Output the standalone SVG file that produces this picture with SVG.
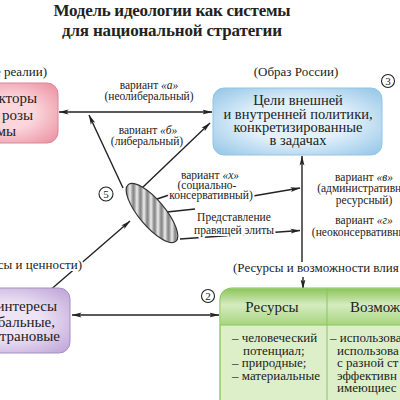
<svg xmlns="http://www.w3.org/2000/svg" width="400" height="400" viewBox="0 0 400 400" font-family="'Liberation Serif', 'DejaVu Serif', 'Times New Roman', serif">
<defs>
<style>
text{font-family:'Liberation Serif','DejaVu Serif','Times New Roman',serif;fill:#222}
.t{font-size:17px;font-weight:bold;text-anchor:middle}
.lbl{font-size:11.5px;text-anchor:middle}
.cap{font-size:13px}
.bx{font-size:14.5px;text-anchor:middle}
.bxe{font-size:15px;text-anchor:end}
.cell{font-size:13px}
.hd{font-size:15px}
.halo{paint-order:stroke;stroke:#fff;stroke-width:4px;stroke-linejoin:round}
.ln{stroke:#222;stroke-width:1.4;fill:none}
.arr{marker-end:url(#ah)}
.dbl{marker-start:url(#ah);marker-end:url(#ah)}
.num{font-size:11px;text-anchor:middle}
.ring{fill:#fff;stroke:#222;stroke-width:1.1}
</style>
<marker id="ah" viewBox="0 0 10 6" refX="9.5" refY="3" markerWidth="10" markerHeight="6" markerUnits="userSpaceOnUse" orient="auto-start-reverse">
<path d="M0,0.6 L10,3 L0,5.4 L2.2,3 z" fill="#222"/>
</marker>
<radialGradient id="gBlue" cx="50%" cy="50%" r="65%">
<stop offset="0.45" stop-color="#e3f1fb"/><stop offset="1" stop-color="#9ccae9"/>
</radialGradient>
<radialGradient id="gPink" cx="50%" cy="50%" r="65%">
<stop offset="0.4" stop-color="#fbd6dc"/><stop offset="1" stop-color="#ec95a4"/>
</radialGradient>
<radialGradient id="gPurp" cx="50%" cy="50%" r="65%">
<stop offset="0.4" stop-color="#eee4f5"/><stop offset="1" stop-color="#c2a9da"/>
</radialGradient>
<linearGradient id="gHead" x1="0" y1="0" x2="0" y2="1">
<stop offset="0" stop-color="#8cc65c"/><stop offset="0.45" stop-color="#d6ecc0"/><stop offset="1" stop-color="#a6d57d"/>
</linearGradient>
<linearGradient id="gStripe" x1="0" y1="0" x2="1" y2="0">
<stop offset="0" stop-color="#7a7a7a"/><stop offset="0.5" stop-color="#eeeeee"/><stop offset="1" stop-color="#7a7a7a"/>
</linearGradient>
<pattern id="stripes" patternUnits="userSpaceOnUse" width="7" height="10" patternTransform="rotate(-50)">
<rect width="7" height="10" fill="url(#gStripe)"/>
</pattern>
</defs>

<g id="title">
<text class="t" x="172" y="16" textLength="237">Модель идеологии как системы</text>
<text class="t" x="172" y="36" textLength="220">для национальной стратегии</text>
</g>

<g id="connectors">
<line class="ln dbl" x1="59" y1="112" x2="212" y2="112"/>
<line class="ln arr" x1="123" y1="188" x2="89" y2="115"/>
<line class="ln arr" x1="142" y1="188" x2="210" y2="123"/>
<line class="ln" x1="157" y1="199" x2="175" y2="193"/>
<line class="ln arr" x1="253" y1="196" x2="300" y2="188"/>
<line class="ln" x1="167" y1="212" x2="195" y2="209"/>
<line class="ln arr" x1="180" y1="239" x2="300" y2="230.5"/>
<line class="ln arr" x1="302" y1="262" x2="302" y2="156"/>
<line class="ln arr" x1="303" y1="277" x2="303" y2="289"/>
<line class="ln arr" x1="48" y1="292" x2="130" y2="221"/>
<line class="ln dbl" x1="72" y1="315" x2="219" y2="315"/>
</g>

<g id="node-external">
<text class="cap" x="47" y="76" text-anchor="end">е реалии)</text>
<rect x="-40" y="83" width="98" height="60" rx="11" fill="url(#gPink)" stroke="#d98898" stroke-width="1"/>
<text class="bxe" x="37" y="103">кторы</text>
<text class="bxe" x="33" y="120">розы</text>
<text class="bxe" x="16" y="136">мы</text>
</g>

<g id="node-goals">
<text class="cap" x="296" y="76" text-anchor="middle">(Образ России)</text>
<rect x="213" y="88" width="169" height="67" rx="11" fill="url(#gBlue)" stroke="#93c4e6" stroke-width="1"/>
<text class="bx" x="298" y="105">Цели внешней</text>
<text class="bx" x="298" y="118.5">и внутренней политики,</text>
<text class="bx" x="298" y="132">конкретизированные</text>
<text class="bx" x="298" y="145">в задачах</text>
<circle class="ring" cx="388" cy="81" r="6.5"/>
<text class="num" x="388" y="85">3</text>
</g>

<g id="node-ideology">
<ellipse cx="152" cy="213" rx="37" ry="13" transform="rotate(50 152 213)" fill="url(#stripes)" stroke="#333" stroke-width="1.2"/>
<circle class="ring" cx="106" cy="194" r="7"/>
<text class="num" x="106" y="198">5</text>
</g>

<g id="labels">
<text class="lbl halo" x="149" y="89">вариант <tspan font-style="italic">«а»</tspan></text>
<text class="lbl halo" x="149" y="99.5">(неолиберальный)</text>
<text class="lbl halo" x="148" y="134">вариант <tspan font-style="italic">«б»</tspan></text>
<text class="lbl halo" x="147" y="144.5">(либеральный)</text>
<text class="lbl halo" x="210" y="179">вариант <tspan font-style="italic">«х»</tspan></text>
<text class="lbl halo" x="207" y="189">(социально-</text>
<text class="lbl halo" x="211" y="199">консервативный)</text>
<text class="lbl halo" x="234" y="221">Представление</text>
<text class="lbl halo" x="234" y="234">правящей элиты</text>
<text class="lbl halo" x="364" y="181">вариант <tspan font-style="italic">«в»</tspan></text>
<text class="lbl halo" x="364" y="192">(административно-</text>
<text class="lbl halo" x="364" y="204">ресурсный)</text>
<text class="lbl halo" x="364" y="224">вариант <tspan font-style="italic">«г»</tspan></text>
<text class="lbl halo" x="364" y="236">(неоконсервативный)</text>
<text class="cap halo" x="233" y="272">(Ресурсы и возможности влия</text>
<text class="cap halo" x="82" y="269" text-anchor="end">сы и ценности)</text>
</g>

<g id="node-interests">
<rect x="-60" y="288" width="130" height="65" rx="11" fill="url(#gPurp)" stroke="#a48fc2" stroke-width="1"/>
<text class="bxe" x="57" y="311">интересы</text>
<text class="bxe" x="55" y="327">бальные,</text>
<text class="bxe" x="60" y="341">трановые</text>
</g>

<g id="node-resources">
<rect x="220" y="288" width="200" height="130" rx="12" fill="#dcefc9" stroke="#7fbf4f" stroke-width="1.2"/>
<path d="M220.6,325 L220.6,300 Q220.6,288.6 232,288.6 L410,288.6 L410,325 z" fill="url(#gHead)"/>
<line x1="220" y1="325" x2="410" y2="325" stroke="#8cc463" stroke-width="1"/>
<line x1="327" y1="288" x2="327" y2="410" stroke="#8cc463" stroke-width="1"/>
<text class="hd" x="272" y="312" text-anchor="middle">Ресурсы</text>
<text class="hd" x="350" y="312">Возмож</text>
<text class="cell" x="232" y="342">– человеческий</text>
<text class="cell" x="243" y="354.5">потенциал;</text>
<text class="cell" x="232" y="367">– природные;</text>
<text class="cell" x="232" y="379.5">– материальные</text>
<text class="cell" x="330" y="342">– использова</text>
<text class="cell" x="337" y="354.5">использова</text>
<text class="cell" x="337" y="367">с разной ст</text>
<text class="cell" x="337" y="379.5">эффективн</text>
<text class="cell" x="337" y="392">имеющиес</text>
<circle class="ring" cx="208" cy="296" r="6.5"/>
<text class="num" x="208" y="300">2</text>
</g>
</svg>
